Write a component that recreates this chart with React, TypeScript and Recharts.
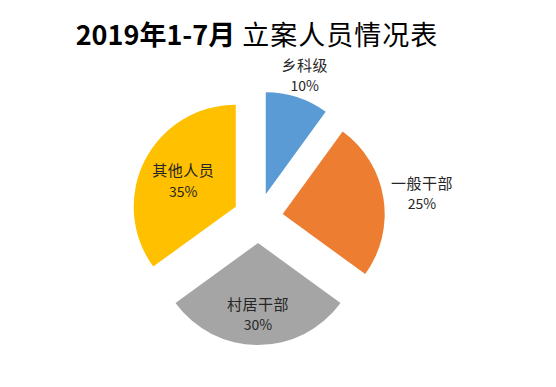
import { Cell, Pie, PieChart, Sector } from "recharts";

const NAMES = ["乡科级", "一般干部", "村居干部", "其他人员"];
const VALUES = [10, 25, 30, 35];
const COLORS = ["#5B9BD5", "#ED7D31", "#A5A5A5", "#FFC000"];
// label distance from the pie centre, per slice
const LABEL_R = [151, 166, 95, 84];
const EXPLODE = 25;
const RADIAN = Math.PI / 180;

const data = NAMES.map((name, i) => ({ name, value: VALUES[i] }));

const FONT = '"Noto Sans CJK SC", "Noto Sans", sans-serif';

function ExplodedSlice(props: any) {
  const { cx, cy, midAngle, innerRadius, outerRadius, startAngle, endAngle, index, percent } = props;
  const dx = EXPLODE * Math.cos(-midAngle * RADIAN);
  const dy = EXPLODE * Math.sin(-midAngle * RADIAN);
  const r = LABEL_R[index];
  const lx = cx + r * Math.cos(-midAngle * RADIAN);
  const ly = cy + r * Math.sin(-midAngle * RADIAN);
  return (
    <g>
      <Sector
        cx={cx + dx}
        cy={cy + dy}
        innerRadius={innerRadius}
        outerRadius={outerRadius}
        startAngle={startAngle}
        endAngle={endAngle}
        fill={COLORS[index]}
        stroke="none"
      />
      <text
        x={lx}
        y={ly - 10}
        textAnchor="middle"
        dominantBaseline="central"
        fill="#262626"
        fontSize={15}
        fontFamily={FONT}
        letterSpacing={0.5}
      >
        {NAMES[index]}
      </text>
      <text
        x={lx}
        y={ly + 11}
        textAnchor="middle"
        dominantBaseline="central"
        fill="#262626"
        fontSize={14}
        fontFamily={FONT}
      >
        {`${Math.round(percent * 100)}%`}
      </text>
    </g>
  );
}

export default function App() {
  return (
    <div style={{ position: "relative", width: 540, height: 371, background: "#fff" }}>
      <div
        style={{
          position: "absolute",
          left: 0,
          top: 12,
          width: 498,
          textAlign: "center",
          fontFamily: FONT,
          fontSize: 27,
          lineHeight: 1,
          color: "#000",
          whiteSpace: "nowrap",
        }}
      >
        <span style={{ fontWeight: 700 }}>2019年1-7月</span>
        <span style={{ fontWeight: 400, letterSpacing: 1 }}> 立案人员情况表</span>
      </div>
      <PieChart width={540} height={371}>
        <Pie
          data={data}
          dataKey="value"
          nameKey="name"
          cx={245}
          cy={205}
          outerRadius={102}
          startAngle={90}
          endAngle={-270}
          stroke="none"
          label={ExplodedSlice}
          labelLine={false}
          isAnimationActive={false}
        >
          {data.map((_, i) => (
            <Cell key={i} fill="transparent" />
          ))}
        </Pie>
      </PieChart>
    </div>
  );
}
